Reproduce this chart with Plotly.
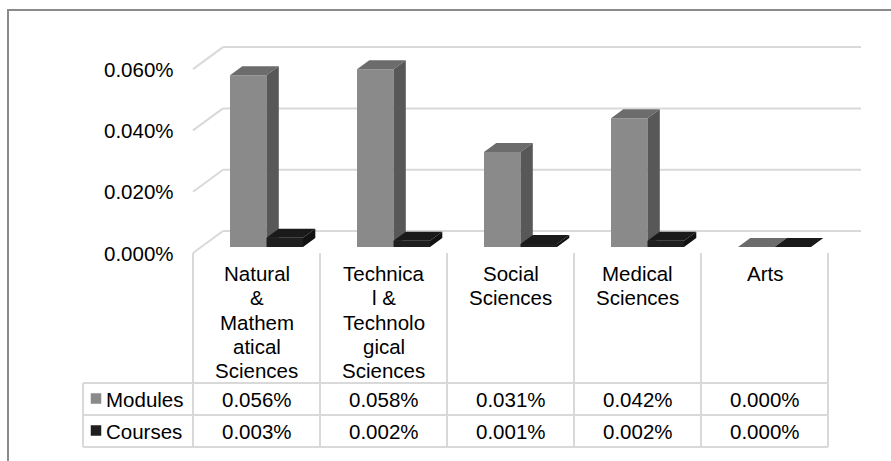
import plotly.graph_objects as go

# ---- data -------------------------------------------------------------
category_lines = [
    ["Natural", "&", "Mathem", "atical", "Sciences"],
    ["Technica", "l &", "Technolo", "gical", "Sciences"],
    ["Social", "Sciences"],
    ["Medical", "Sciences"],
    ["Arts"],
]
series_names = ["Modules", "Courses"]
modules = [0.056, 0.058, 0.031, 0.042, 0.000]   # percent
courses = [0.003, 0.002, 0.001, 0.002, 0.000]   # percent
y_ticks = [0.000, 0.020, 0.040, 0.060]          # percent

# ---- styling ----------------------------------------------------------
face_colors = {
    "Modules": {"front": "#8a8a8a", "top": "#6c6c6c", "side": "#585858"},
    "Courses": {"front": "#1f1f1f", "top": "#1a1a1a", "side": "#121212"},
}
GRID = "#d9d9d9"
BORDER = "#8a8a8a"
FONT = dict(family="Liberation Sans, Arial, sans-serif", size=20.5, color="#000000")

# ---- canvas geometry (pixels) -----------------------------------------
W, H = 891, 461
FLOOR_X = 193          # left edge of the front plane
CAT_W = 127            # width of one category column
FLOOR_Y = 253          # front floor line (value 0)
PX_PER_UNIT = 3065     # pixels per 1 %
DEPTH_X, DEPTH_Y = 30, 22    # oblique offset front -> back wall
BAR_W = 36.5
BAR_SHIFT_X, BAR_BASE_Y = 10, 6   # where the bar row sits in depth
BAR_DX, BAR_DY = 12.3, 9          # bar thickness in depth


def X(px):
    return -0.5 + (px - FLOOR_X) / CAT_W


def Y(py):
    return (FLOOR_Y - py) / PX_PER_UNIT


def dx(p):
    return p / CAT_W


def dy(p):
    return p / PX_PER_UNIT


fig = go.Figure()
shapes = []
annotations = []

# ---- walls: back-wall gridlines and side-wall diagonals ---------------
for g in y_ticks:
    shapes.append(dict(type="line", xref="x", yref="y", layer="below",
                       x0=-0.5 + dx(DEPTH_X), y0=g + dy(DEPTH_Y),
                       x1=4.5 + dx(DEPTH_X + 3), y1=g + dy(DEPTH_Y),
                       line=dict(color=GRID, width=2)))
    shapes.append(dict(type="line", xref="x", yref="y", layer="below",
                       x0=-0.5, y0=g,
                       x1=-0.5 + dx(DEPTH_X), y1=g + dy(DEPTH_Y),
                       line=dict(color=GRID, width=2)))
    annotations.append(dict(x=X(176), y=g, xref="x", yref="y",
                            text=f"{g:.3f}%", showarrow=False,
                            xanchor="right", yanchor="middle", font=FONT))

# ---- 3-D columns ------------------------------------------------------
ddx, ddy = dx(BAR_DX), dy(BAR_DY)
base = dy(BAR_BASE_Y)
for s, (name, vals) in enumerate(zip(series_names, [modules, courses])):
    faces = {"front": ([], []), "top": ([], []), "side": ([], [])}
    for i, v in enumerate(vals):
        x0 = i + dx(BAR_SHIFT_X) + (s - 1) * dx(BAR_W)
        x1 = x0 + dx(BAR_W)
        b, t = base, base + v
        polys = {
            "front": ([x0, x1, x1, x0, x0], [b, b, t, t, b]),
            "top": ([x0, x1, x1 + ddx, x0 + ddx, x0],
                    [t, t, t + ddy, t + ddy, t]),
            "side": ([x1, x1 + ddx, x1 + ddx, x1, x1],
                     [b, b + ddy, t + ddy, t, b]),
        }
        for k, (px_, py_) in polys.items():
            faces[k][0].extend(px_ + [None])
            faces[k][1].extend(py_ + [None])
    for k in ["front", "top", "side"]:
        fig.add_trace(go.Scatter(
            x=faces[k][0], y=faces[k][1], mode="lines", fill="toself",
            fillcolor=face_colors[name][k], line=dict(width=0),
            hoverinfo="skip", showlegend=False, name=name))

# ---- data table -------------------------------------------------------
TABLE_TOP, ROW1, ROW2 = 383, 415, 447
for k in range(6):
    shapes.append(dict(type="line", xref="x", yref="y",
                       x0=-0.5 + k, y0=Y(FLOOR_Y), x1=-0.5 + k, y1=Y(ROW2),
                       line=dict(color=GRID, width=2)))
for py in [TABLE_TOP, ROW1, ROW2]:
    shapes.append(dict(type="line", xref="x", yref="y",
                       x0=X(83), y0=Y(py), x1=4.5, y1=Y(py),
                       line=dict(color=GRID, width=2)))
shapes.append(dict(type="line", xref="x", yref="y",
                   x0=X(83), y0=Y(TABLE_TOP), x1=X(83), y1=Y(ROW2),
                   line=dict(color=GRID, width=2)))

# category labels, one annotation per wrapped line
LINE_1, LINE_STEP = 273.5, 24.25
for i, lines in enumerate(category_lines):
    for j, txt in enumerate(lines):
        annotations.append(dict(x=i, y=Y(LINE_1 + j * LINE_STEP),
                                xref="x", yref="y", text=txt,
                                showarrow=False, xanchor="center",
                                yanchor="middle", font=FONT))

# value rows with legend keys
row_centers = [(TABLE_TOP + ROW1) / 2, (ROW1 + ROW2) / 2]
for name, vals, rc in zip(series_names, [modules, courses], row_centers):
    fig.add_trace(go.Scatter(
        x=[X(96)], y=[Y(rc - 0.5)], mode="markers",
        marker=dict(symbol="square", size=10.5,
                    color=face_colors[name]["front"], line=dict(width=0)),
        hoverinfo="skip", showlegend=False))
    annotations.append(dict(x=X(104), y=Y(rc), xref="x", yref="y",
                            text=name, showarrow=False, xanchor="left",
                            yanchor="middle", font=FONT))
    for i, v in enumerate(vals):
        annotations.append(dict(x=i, y=Y(rc), xref="x", yref="y",
                                text=f"{v:.3f}%", showarrow=False,
                                xanchor="center", yanchor="middle", font=FONT))

# ---- chart-area border (left and top edges) ---------------------------
shapes.append(dict(type="path", xref="paper", yref="paper",
                   path=f"M {8 / W},0 L {8 / W},{1 - 10 / H} L 1,{1 - 10 / H}",
                   line=dict(color=BORDER, width=2)))

fig.update_layout(
    width=W, height=H, autosize=False,
    margin=dict(l=0, r=0, t=0, b=0, pad=0),
    paper_bgcolor="white", plot_bgcolor="white",
    xaxis=dict(range=[X(0), X(W)], visible=False, fixedrange=True),
    yaxis=dict(range=[Y(H), Y(0)], visible=False, fixedrange=True),
    shapes=shapes, annotations=annotations, showlegend=False,
)

fig.write_html("out.html")
